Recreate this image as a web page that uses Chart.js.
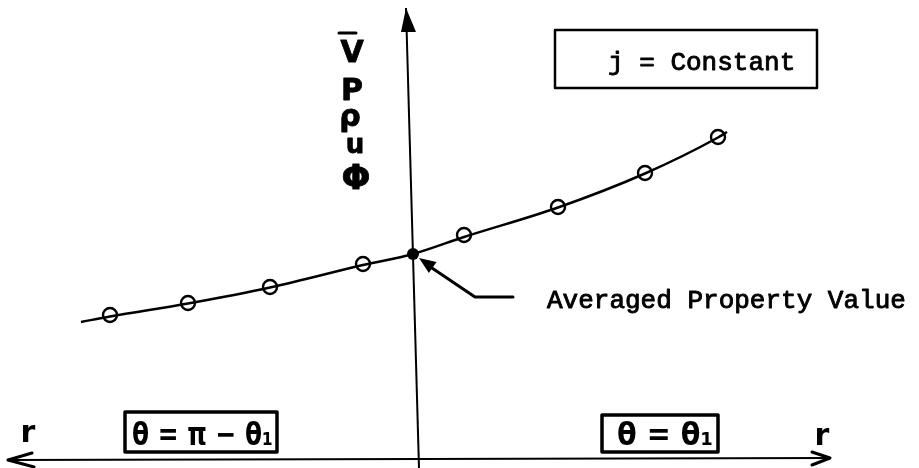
<!DOCTYPE html>
<html>
<head>
<meta charset="utf-8">
<script src="https://cdn.jsdelivr.net/npm/chart.js@4"></script>
<style>
  html, body { margin: 0; padding: 0; background: #fff; }
  #c { display: block; width: 919px; height: 468px; }
</style>
</head>
<body>
<canvas id="c" width="919" height="468"></canvas>
<script>
// Sampled property values along r on both sides of the axis (theta = pi - theta1 on the left, theta = theta1 on the right)
const R_SAMPLES = [-6.06, -4.50, -2.86, -1.00, 1.02, 2.90, 4.64, 6.10];
const V_SAMPLES = [2.90, 3.14, 3.46, 3.92, 4.50, 5.06, 5.74, 6.46];

// Averaged property value at the axis
const R_AVG = [0];
const V_AVG = [4.12];

// Smooth faired curve through the samples
const CURVE_R = [-6.64, -6.06, -4.50, -2.86, -1.00, 0, 1.02, 2.90, 4.64, 6.10, 6.28];
const CURVE_V = [2.76, 2.87, 3.13, 3.45, 3.90, 4.12, 4.46, 5.05, 5.73, 6.45, 6.56];

// Axis extents (vertical axis drawn slightly leaning, as sketched)
const V_AXIS_R = [0.12, -0.14];
const V_AXIS_V = [-0.16, 9.04];
const H_AXIS_R = [-8.10, 8.34];
const H_AXIS_V = [0.00, 0.04];

// Stacked symbols on the vertical axis
const Y_SYMBOLS = ['V', 'P', '\u03C1', 'u', '\u03A6'];

const X_RANGE = [-8.26, 10.12];
const Y_RANGE = [-0.16, 9.20];

const toPts = (xs, ys) => xs.map((x, i) => ({ x: x, y: ys[i] }));

const INK = '#000';

// Annotation layout in data units
const LAYOUT = {
  symbols: [
    { x: -1.22, y: 7.96, size: 30 },
    { x: -1.22, y: 7.20, size: 30 },
    { x: -1.26, y: 6.68, size: 30 },
    { x: -1.16, y: 6.14, size: 26 },
    { x: -1.14, y: 5.42, size: 34 }
  ],
  jBox: { x0: 2.84, y0: 8.60, x1: 8.08, y1: 7.44, tx: 3.90, ty: 7.80 },
  note: { x: 2.68, y: 3.04 },
  pointer: [[2.00, 3.26], [1.24, 3.26], [0.12, 4.04]],
  leftBox: { x0: -5.76, y0: 0.96, x1: -2.72, y1: 0.16, tx0: -5.62, tx1: -2.80, ty: 0.30 },
  rightBox: { x0: 3.78, y0: 0.90, x1: 6.10, y1: 0.16, tx0: 4.08, tx1: 6.00, ty: 0.30 },
  rLeft: { x: -7.70, y: 0.36 },
  rRight: { x: 8.18, y: 0.30 }
};

function inkText(ctx, text, x, y, maxW) {
  if (maxW) { ctx.fillText(text, x, y, maxW); ctx.strokeText(text, x, y, maxW); }
  else { ctx.fillText(text, x, y); ctx.strokeText(text, x, y); }
}

const sketchPlugin = {
  id: 'sketch',
  beforeDraw(chart) {
    const ctx = chart.ctx;
    ctx.save();
    ctx.fillStyle = '#fff';
    ctx.fillRect(0, 0, chart.width, chart.height);
    ctx.restore();
  },
  afterDatasetsDraw(chart) {
    const ctx = chart.ctx;
    const xs = chart.scales.x, ys = chart.scales.y;
    const X = v => xs.getPixelForValue(v);
    const Y = v => ys.getPixelForValue(v);
    ctx.save();
    ctx.strokeStyle = INK;
    ctx.fillStyle = INK;
    ctx.lineCap = 'round';
    ctx.lineJoin = 'round';

    // Arrowhead at top of vertical axis
    const tx = X(V_AXIS_R[1]), ty = Y(V_AXIS_V[1]);
    ctx.beginPath();
    ctx.moveTo(tx, ty);
    ctx.lineTo(tx + 10, ty + 24);
    ctx.lineTo(tx - 5, ty + 24);
    ctx.closePath();
    ctx.fill();

    // Open arrowheads on the horizontal axis
    ctx.lineWidth = 3;
    const lx = X(H_AXIS_R[0]), ly = Y(H_AXIS_V[0]);
    ctx.beginPath();
    ctx.moveTo(lx + 24, ly - 7);
    ctx.lineTo(lx, ly);
    ctx.lineTo(lx + 26, ly + 7);
    ctx.stroke();
    const rx = X(H_AXIS_R[1]), ry = Y(H_AXIS_V[1]);
    ctx.beginPath();
    ctx.moveTo(rx - 18, ry - 6);
    ctx.lineTo(rx, ry);
    ctx.lineTo(rx - 18, ry + 7);
    ctx.stroke();

    // Symbols beside the vertical axis
    ctx.textAlign = 'center';
    ctx.textBaseline = 'alphabetic';
    ctx.lineWidth = 0.8;
    Y_SYMBOLS.forEach((s, i) => {
      const p = LAYOUT.symbols[i];
      ctx.font = 'bold ' + p.size + 'px "DejaVu Sans"';
      inkText(ctx, s, X(p.x), Y(p.y));
    });
    // bar over the V
    const vb = LAYOUT.symbols[0];
    ctx.lineWidth = 3;
    ctx.beginPath();
    ctx.moveTo(X(vb.x) - 13, Y(vb.y) - 29);
    ctx.lineTo(X(vb.x) + 4, Y(vb.y) - 29);
    ctx.stroke();

    // "j = Constant" box
    const jb = LAYOUT.jBox;
    ctx.lineWidth = 2.5;
    ctx.strokeRect(X(jb.x0), Y(jb.y0), X(jb.x1) - X(jb.x0), Y(jb.y1) - Y(jb.y0));
    ctx.textAlign = 'left';
    ctx.font = '26px "Liberation Mono"';
    ctx.lineWidth = 0.9;
    inkText(ctx, 'j = Constant', X(jb.tx), Y(jb.ty));

    // Pointer to the averaged value
    const pp = LAYOUT.pointer;
    ctx.lineWidth = 3;
    ctx.beginPath();
    ctx.moveTo(X(pp[0][0]), Y(pp[0][1]));
    ctx.lineTo(X(pp[1][0]), Y(pp[1][1]));
    ctx.lineTo(X(pp[2][0]) + 10, Y(pp[2][1]) + 8);
    ctx.stroke();
    const ax = X(pp[2][0]), ay = Y(pp[2][1]);
    const ang = Math.atan2(Y(pp[1][1]) - ay, X(pp[1][0]) - ax);
    ctx.beginPath();
    ctx.moveTo(ax, ay);
    ctx.lineTo(ax + 18 * Math.cos(ang - 0.38), ay + 18 * Math.sin(ang - 0.38));
    ctx.lineTo(ax + 18 * Math.cos(ang + 0.38), ay + 18 * Math.sin(ang + 0.38));
    ctx.closePath();
    ctx.fill();
    ctx.font = '26px "Liberation Mono"';
    ctx.lineWidth = 0.9;
    inkText(ctx, 'Averaged Property Value', X(LAYOUT.note.x), Y(LAYOUT.note.y));

    // Theta boxes along the r axis
    [[LAYOUT.leftBox, '\u03B8 = \u03C0 \u2212 \u03B8\u2081'], [LAYOUT.rightBox, '\u03B8 = \u03B8\u2081']].forEach(([b, t]) => {
      ctx.lineWidth = 3.5;
      ctx.strokeRect(X(b.x0), Y(b.y0), X(b.x1) - X(b.x0), Y(b.y1) - Y(b.y0));
      ctx.font = 'bold 32px "DejaVu Sans"';
      ctx.textAlign = 'left';
      ctx.fillText(t, X(b.tx0), Y(b.ty), X(b.tx1) - X(b.tx0));
    });

    // r labels at both ends of the horizontal axis
    ctx.textAlign = 'center';
    ctx.font = 'bold 30px "DejaVu Sans"';
    ctx.fillText('r', X(LAYOUT.rLeft.x), Y(LAYOUT.rLeft.y));
    ctx.fillText('r', X(LAYOUT.rRight.x), Y(LAYOUT.rRight.y));

    ctx.restore();
  }
};

new Chart(document.getElementById('c'), {
  type: 'scatter',
  data: {
    datasets: [
      {
        label: 'curve',
        data: toPts(CURVE_R, CURVE_V),
        showLine: true,
        cubicInterpolationMode: 'monotone',
        borderColor: INK,
        borderWidth: 2.5,
        pointRadius: 0
      },
      {
        label: 'samples',
        data: toPts(R_SAMPLES, V_SAMPLES),
        pointRadius: 7,
        pointStyle: 'circle',
        borderWidth: 2.4,
        borderColor: INK,
        backgroundColor: 'rgba(0,0,0,0)'
      },
      {
        label: 'average',
        data: toPts(R_AVG, V_AVG),
        pointRadius: 6,
        borderWidth: 0,
        backgroundColor: INK
      },
      {
        label: 'vertical axis',
        data: toPts(V_AXIS_R, V_AXIS_V),
        showLine: true,
        borderColor: INK,
        borderWidth: 2,
        pointRadius: 0
      },
      {
        label: 'horizontal axis',
        data: toPts(H_AXIS_R, H_AXIS_V),
        showLine: true,
        borderColor: INK,
        borderWidth: 2,
        pointRadius: 0
      }
    ]
  },
  options: {
    responsive: false,
    animation: false,
    devicePixelRatio: 1,
    layout: { padding: 0, autoPadding: false },
    plugins: { legend: { display: false }, tooltip: { enabled: false } },
    scales: {
      x: { type: 'linear', min: X_RANGE[0], max: X_RANGE[1], display: false },
      y: { type: 'linear', min: Y_RANGE[0], max: Y_RANGE[1], display: false }
    }
  },
  plugins: [sketchPlugin]
});
</script>
</body>
</html>
